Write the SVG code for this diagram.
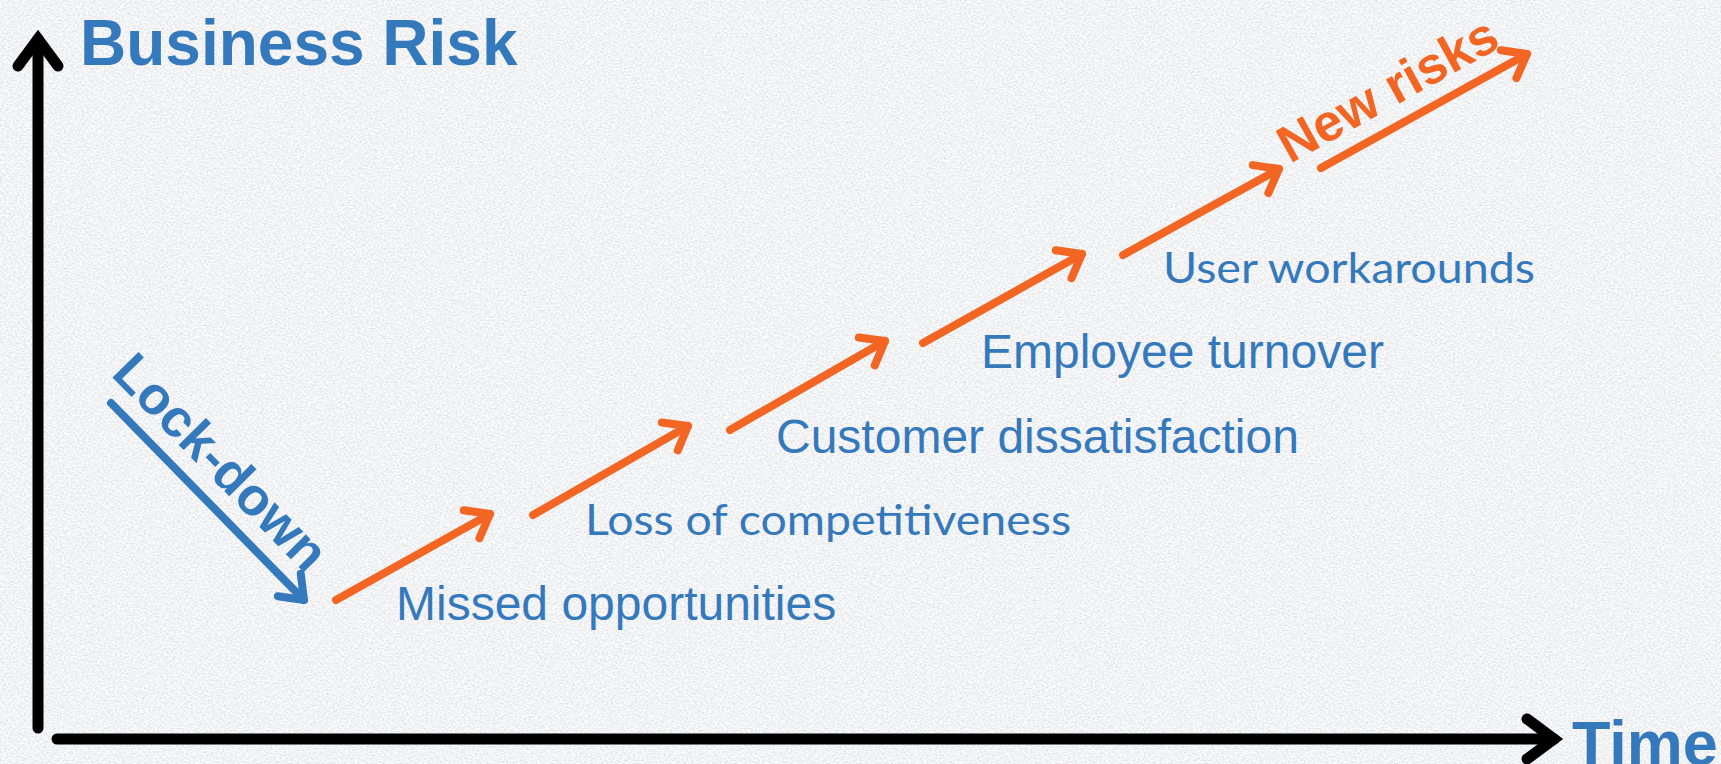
<svg xmlns="http://www.w3.org/2000/svg" width="1721" height="764" viewBox="0 0 1721 764">
  <defs>
    <filter id="tex" x="0" y="0" width="100%" height="100%" filterUnits="objectBoundingBox">
      <feTurbulence type="fractalNoise" baseFrequency="0.45 0.6" numOctaves="3" seed="7" result="n"/>
      <feColorMatrix in="n" type="matrix" values="0.45 0 0 0 0.665  0.45 0 0 0 0.67  0.45 0 0 0 0.685  0 0 0 0 1"/>
    </filter>
    <marker id="mk" markerUnits="userSpaceOnUse" orient="auto" overflow="visible" markerWidth="1" markerHeight="1" refX="0" refY="0">
      <path d="M-27,-20 L0,0 L-27,20" fill="none" stroke="#000" stroke-width="11" stroke-linecap="round" stroke-linejoin="miter"/>
    </marker>
    <marker id="mo" markerUnits="userSpaceOnUse" orient="auto" overflow="visible" markerWidth="1" markerHeight="1" refX="0" refY="0">
      <path d="M-21,-16 L0,0 L-21,16" fill="none" stroke="#F26522" stroke-width="8" stroke-linecap="round" stroke-linejoin="round"/>
    </marker>
    <marker id="mb" markerUnits="userSpaceOnUse" orient="auto" overflow="visible" markerWidth="1" markerHeight="1" refX="0" refY="0">
      <path d="M-21,-16 L0,0 L-21,16" fill="none" stroke="#3579BD" stroke-width="8" stroke-linecap="round" stroke-linejoin="round"/>
    </marker>
  </defs>
  <style>
    .axis { stroke: #000; stroke-width: 11; stroke-linecap: round; fill: none; }
    .ora { stroke: #F26522; stroke-width: 8; stroke-linecap: round; fill: none; marker-end: url(#mo); }
    .blu { stroke: #3579BD; stroke-width: 8; stroke-linecap: round; fill: none; marker-end: url(#mb); }
    .ttl { font-family: "Liberation Sans", Arial, sans-serif; font-weight: bold; fill: #3579BD; }
    .lbl { font-family: "Liberation Sans", Arial, sans-serif; fill: #3579BD; }
    .hum { font-family: Lato, "Open Sans", sans-serif; fill: #3579BD; }
  </style>

  <rect x="0" y="0" width="1721" height="764" fill="#E6E7EA"/>
  <rect x="0" y="0" width="1721" height="764" fill="#E6E7EA" filter="url(#tex)"/>

  <g id="axes">
    <path class="axis" d="M38,728 L38,39" marker-end="url(#mk)"/>
    <path class="axis" d="M57,739 L1554,739" marker-end="url(#mk)"/>
  </g>

  <g id="connectors">
    <path class="blu" d="M111,403 L304,600"/>
    <path class="ora" d="M336,600 L490,514"/>
    <path class="ora" d="M533,515 L688,426"/>
    <path class="ora" d="M730,430 L885,341"/>
    <path class="ora" d="M923,343 L1082,254"/>
    <path class="ora" d="M1123,255 L1279,169"/>
    <path class="ora" d="M1321,168 L1527,54"/>
  </g>

  <g id="title-business-risk">
    <text class="ttl" x="80" y="65" font-size="64">Business Risk</text>
  </g>
  <g id="title-time">
    <text class="ttl" x="1572" y="765" font-size="63">Time</text>
  </g>
  <g id="lock-down">
    <text class="ttl" font-size="53" transform="translate(110,375) rotate(45.5)">Lock-down</text>
  </g>
  <g id="new-risks">
    <text class="ttl" font-size="52" style="fill:#F26522" transform="translate(1290,164) rotate(-29)">New risks</text>
  </g>
  <g id="missed-opportunities">
    <text class="lbl" x="396" y="620" font-size="48">Missed opportunities</text>
  </g>
  <g id="loss-of-competitiveness">
    <text class="hum" x="585" y="535" font-size="43" textLength="486" lengthAdjust="spacingAndGlyphs">Loss of competitiveness</text>
  </g>
  <g id="customer-dissatisfaction">
    <text class="lbl" x="776" y="453" font-size="48">Customer dissatisfaction</text>
  </g>
  <g id="employee-turnover">
    <text class="lbl" x="981" y="368" font-size="48">Employee turnover</text>
  </g>
  <g id="user-workarounds">
    <text class="hum" x="1163" y="283" font-size="42" textLength="372" lengthAdjust="spacingAndGlyphs">User workarounds</text>
  </g>
</svg>
